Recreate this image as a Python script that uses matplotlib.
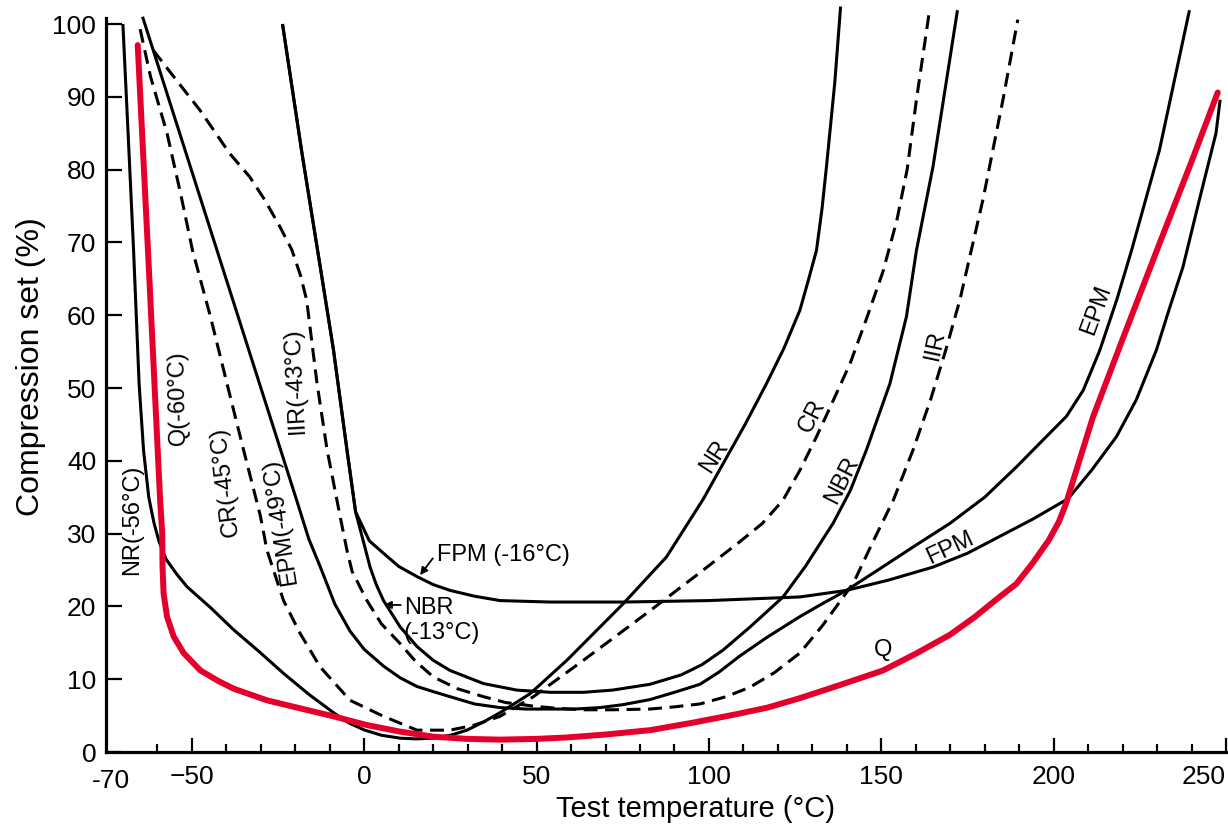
import matplotlib
matplotlib.use("Agg")
import matplotlib.pyplot as plt

plt.rcParams['font.family'] = ['Liberation Sans', 'DejaVu Sans']
plt.rcParams['lines.scale_dashes'] = False

# ---- data (temperature °C, compression set %) ----
NR_x = [-70, -68.4, -66.9, -65.3, -64.0, -62.5, -61.0, -59.5, -57.5, -54.5, -51.4, -44.5, -37.9, -30.5,
        -23.4, -16.0, -8.9, -4.5, 0.2, 5.0, 10.4, 15.0, 20.1, 25.0, 29.8, 34.5, 39.4, 48.1, 58.8, 67.0,
        75.2, 87.7, 98.3, 104.1, 110.5, 116.7, 121.8, 126.4, 128.9, 131.2, 132.8, 134.1, 136.5, 138.2]
NR_y = [100, 84.1, 68.9, 50.6, 41.4, 35.0, 31.5, 28.9, 26.5, 24.5, 22.7, 19.8, 16.8, 13.8,
        10.8, 7.9, 5.4, 4.0, 3.0, 2.3, 1.9, 1.8, 1.9, 2.3, 3.0, 4.1, 5.4, 8.0, 12.6, 16.5,
        20.4, 26.8, 34.7, 39.6, 45.0, 50.6, 55.5, 60.7, 64.9, 68.9, 74.6, 80.4, 91.9, 102.4]

Q_x = [-65.7, -62.4, -59.2, -58.6, -58.5, -58.2, -57.2, -55.3, -52.4, -47.5, -42.5, -37.9, -28.2, -18.6,
       -8.9, 0.8, 10.4, 20.1, 30, 39.4, 50, 58.8, 70, 82.9, 95, 107, 117, 126.4, 138, 150.5, 160, 169.9,
       177, 184.3, 189.2, 194, 198.6, 201.5, 203.5, 205.6, 208.5, 211.4, 220, 231, 240, 247.6]
Q_y = [97.1, 65.8, 34.6, 30.1, 25.4, 21.8, 18.6, 15.9, 13.6, 11.2, 9.8, 8.7, 7.1, 6.0,
       4.9, 3.7, 2.8, 2.1, 1.8, 1.7, 1.8, 2.0, 2.4, 3.0, 4.0, 5.1, 6.1, 7.4, 9.2, 11.2, 13.5, 16.1,
       18.5, 21.3, 23.1, 26.0, 29.1, 31.6, 34.0, 37.2, 41.6, 46.0, 56.7, 70.2, 81.1, 90.6]

CR_x = [-65, -62, -57.2, -53.3, -49.8, -44.6, -39.8, -35, -30.1, -28.2, -23.4, -18.6, -12.8, -4.1, 5.6,
        15.3, 24.9, 32, 39.4, 49.1, 63.6, 82.9, 97, 109, 115.5, 121.5, 126.5, 131.2, 135.2, 140.9,
        145.7, 150.5, 154.5, 157.5, 160.2, 164]
CR_y = [99.3, 92.8, 85.0, 76.8, 68.9, 59.8, 50.6, 41.5, 32.4, 27.7, 20.8, 16.3, 11.7, 7.1, 4.9,
        3.0, 3.0, 3.7, 4.9, 7.6, 12.6, 19.4, 24.5, 28.9, 31.4, 34.6, 38.8, 43.3, 47.4, 53.3,
        59.5, 66.0, 73.0, 80.0, 89.6, 101.9]

EPM_x = [-64.3, -19.6, -16.1, -12.8, -8.5, -4.1, 0, 5.6, 10.4, 15.3, 20, 24.9, 32, 39.4, 47, 53.9,
         61, 68.4, 75, 82.9, 90, 97.4, 103, 109, 117, 126.4, 133, 139.9, 150, 160, 169.9, 180, 189.3,
         197, 203.7, 208.6, 213.4, 218.3, 222.6, 230.7, 239.4]
EPM_y = [101, 34.6, 29.3, 25.5, 20.3, 16.6, 14.1, 11.8, 10.2, 9.0, 8.3, 7.6, 6.6, 6.1, 5.9, 5.9,
         5.9, 6.1, 6.5, 7.2, 8.2, 9.3, 11.0, 13.2, 15.8, 18.6, 20.4, 22.2, 25.3, 28.4, 31.4, 35.0, 39.2,
         42.9, 46.1, 49.7, 55.2, 62.1, 68.9, 82.7, 101.9]

IIR_x = [-61.2, -54, -47.7, -39.0, -33.2, -28.8, -24.5, -21.0, -18.5, -16.7, -13.7, -10.8, -7, -5, -3.5,
         0.8, 5, 10.4, 15, 20.1, 27, 34.6, 41, 49.1, 56, 63.6, 72, 82.9, 90, 97.4, 105, 111.9, 119,
         126.4, 133, 141.9, 147.5, 153.5, 159.3, 164.3, 168.7, 172.8, 179.5, 185.3, 189.6]
IIR_y = [96.4, 92.0, 88.2, 82.2, 79.0, 75.8, 72.2, 69.0, 65.5, 62.1, 50.7, 41.6, 32.4, 27.7, 24.8,
         20.8, 17.6, 14.9, 12.4, 10.3, 8.7, 7.6, 6.8, 6.3, 6.0, 5.8, 5.8, 5.9, 6.2, 6.6, 7.6, 8.9, 10.9,
         13.6, 17.4, 23.2, 28.8, 34.6, 41.6, 48.4, 55.2, 62.1, 75.9, 89.6, 100.6]

FPM_x = [-23.7, -18, -12.6, -8.9, -5, -2.5, 1.5, 5.6, 10, 15.3, 20, 24.9, 32, 39.4, 53.9, 75.2, 100,
         126.4, 139.9, 152, 165, 175, 184.3, 194, 204.2, 211, 218.2, 224, 229.8, 233.5, 237.5, 242.3,
         247.1, 248.3]
FPM_y = [100, 82.1, 66.2, 55.2, 41.5, 33.0, 29.0, 27.3, 25.5, 24.1, 23.0, 22.2, 21.4, 20.8, 20.6, 20.6,
         20.8, 21.3, 22.2, 23.6, 25.4, 27.3, 29.6, 32.0, 34.8, 38.7, 43.3, 48.4, 55.2, 60.8, 66.6, 75.9,
         85.0, 89.6]

NBR_x = [-23.7, -18, -12.6, -8.9, -5, -2.5, 0, 1.7, 3.5, 5.6, 10.4, 15.3, 20, 24.9, 34.6, 44.3, 54,
         63.6, 72, 82.9, 92, 98, 104.1, 112, 121.5, 128, 136, 141, 145.7, 152.5, 157.3, 160.2, 165,
         168.8, 172.1]
NBR_y = [100, 82.1, 66.2, 55.2, 41.5, 33.0, 28.5, 25.4, 23.0, 20.8, 17.2, 14.5, 12.6, 11.2, 9.4, 8.5,
         8.2, 8.2, 8.5, 9.3, 10.6, 12.0, 14.0, 17.2, 21.3, 25.5, 31.4, 35.9, 41.5, 50.6, 59.8, 68.9,
         80.4, 91.9, 101.9]

x_major = [-50, 0, 50, 100, 150, 200, 250]
x_minor = [-60, -40, -30, -20, -10, 10, 20, 30, 40, 60, 70, 80, 90, 110, 120, 130, 140, 160, 170,
           180, 190, 210, 220, 230, 240]
y_ticks = [0, 10, 20, 30, 40, 50, 60, 70, 80, 90, 100]

# ---- figure ----
W, H = 1228, 826
fig = plt.figure(figsize=(W / 100, H / 100), dpi=100)
ax = fig.add_axes([106 / W, (H - 752) / H, (1226 - 106) / W, 752 / H])
ax.set_xlim(-74.9, 250.0)
ax.set_ylim(0, 103.3)

black = dict(color='black', lw=2.2, solid_capstyle='butt', solid_joinstyle='round')
dash = dict(color='black', lw=2.2, dashes=(10, 5.5), dash_capstyle='butt', dash_joinstyle='round')

ax.plot(NR_x, NR_y, **black)
ax.plot(EPM_x, EPM_y, **black)
ax.plot(FPM_x, FPM_y, **black)
ax.plot(NBR_x, NBR_y, **black)
ax.plot(CR_x, CR_y, **dash)
ax.plot(IIR_x, IIR_y, **dash)
ax.plot(Q_x, Q_y, color='#e4002b', lw=4.3, solid_capstyle='round', solid_joinstyle='round', zorder=3)

for sp in ['top', 'right']:
    ax.spines[sp].set_visible(False)
for sp in ['left', 'bottom']:
    ax.spines[sp].set_linewidth(2.3)
ax.spines['left'].set_bounds(0, 100.8)

ax.set_xticks(x_major)
ax.set_xticks(x_minor, minor=True)
ax.set_yticks(y_ticks)
ax.tick_params(axis='x', which='major', direction='in', length=10, width=1.6, labelsize=19, pad=9)
ax.tick_params(axis='x', which='minor', direction='in', length=5.5, width=1.6)
ax.tick_params(axis='y', which='major', direction='in', length=11.5, width=1.6, labelsize=19, pad=7)
ax.get_xticklabels()[-1].set_horizontalalignment('right')
ax.text(-73.4, -2.3, '-70', ha='center', va='top', fontsize=19)

ax.set_xlabel('Test temperature (°C)', fontsize=21, labelpad=5)
ax.xaxis.set_label_coords((696 - 106) / 1120, -0.057)
ax.set_ylabel('Compression set (%)', fontsize=23, labelpad=6)
ax.yaxis.set_label_coords((46 - 106) / 1120, (752 - 367) / 752)

lab = dict(fontsize=17, ha='center', va='center', rotation_mode='anchor')
ax.text(-67.4, 31.9, 'NR(-56°C)', rotation=90, **lab)
ax.text(-54.1, 48.6, 'Q(-60°C)', rotation=91, **lab)
ax.text(-40.4, 37.1, 'CR(-45°C)', rotation=97, **lab)
ax.text(-24.3, 31.6, 'EPM(-49°C)', rotation=99, **lab)
ax.text(-20.1, 51.0, 'IIR(-43°C)', rotation=93, **lab)
ax.text(101.7, 40.6, 'NR', rotation=57, **lab)
ax.text(129.8, 46.1, 'CR', rotation=63, **lab)
ax.text(138.5, 37.4, 'NBR', rotation=63, **lab)
ax.text(165.6, 55.9, 'IIR', rotation=78, **lab)
ax.text(212.5, 60.7, 'EPM', rotation=70, **lab)
ax.text(169.9, 28.0, 'FPM', rotation=25, **lab)
ax.text(150.6, 14.0, 'Q', rotation=0, **lab)

ax.text(21.1, 27.1, 'FPM (-16°C)', fontsize=17, ha='left', va='center')
ax.text(11.5, 19.8, 'NBR', fontsize=17, ha='left', va='center')
ax.text(11.5, 16.3, '(-13°C)', fontsize=17, ha='left', va='center')
arr = dict(arrowstyle='-|>', color='black', lw=1.3, mutation_scale=11, shrinkA=0, shrinkB=0)
ax.annotate('', xy=(16.2, 24.3), xytext=(19.9, 26.6), arrowprops=arr)
ax.annotate('', xy=(5.7, 20.2), xytext=(10.6, 20.2), arrowprops=arr)

fig.savefig('out.png', dpi=100)
